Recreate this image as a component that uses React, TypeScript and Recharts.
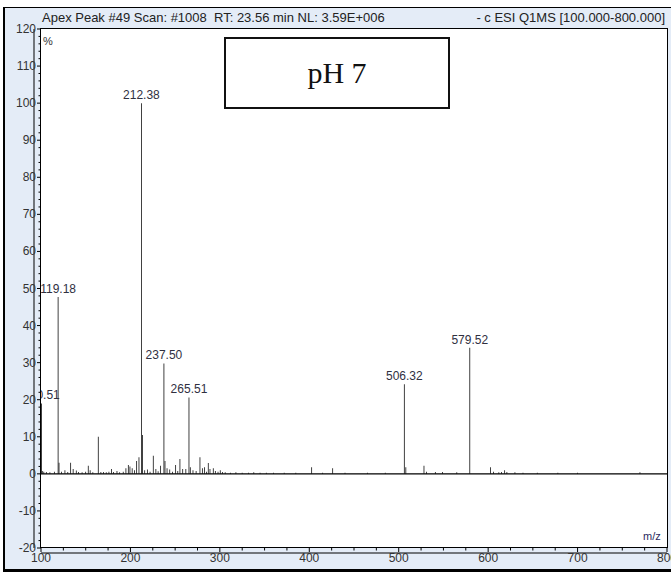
import React from 'react';
import { ComposedChart, Bar, XAxis, YAxis, ReferenceLine, LabelList } from 'recharts';

// m/z of each stick
const peakMz = [
  100.51, 101.5, 103.2, 106, 110, 115, 119.18, 120.2, 123, 126.8, 130, 133.2, 136, 139.5, 142, 146, 150,
  152.9, 155, 158, 164.1, 167, 170, 173, 176, 179, 181, 185, 188, 192, 195, 197.7, 199.5, 202, 204.5,
  207, 209.6, 212.38, 213.6, 216, 219, 222, 225.6, 228.5, 231, 233.8, 237.5, 238.7, 241, 244, 247,
  250.6, 253, 255.4, 258.5, 262, 265.51, 267, 270, 273.5, 277.8, 280.5, 283, 285, 287.1, 289, 292.7,
  295, 298, 300.5, 303, 306, 312, 318, 325, 332, 338, 345, 352, 360, 372, 385, 402.7, 415, 426.2, 440,
  465, 485, 506.32, 508, 528.3, 531, 541, 549, 565, 579.52, 602.8, 606, 612, 615, 618.5, 621, 630, 639,
  655, 678, 700, 769.8,
];
// relative abundance (%) of each stick
const peakIntensity = [
  19.0, 0.8, 0.6, 0.5, 0.4, 0.6, 47.7, 3.0, 0.6, 1.0, 0.5, 3.0, 1.3, 0.9, 0.5, 0.4, 0.6,
  2.2, 1.0, 0.4, 10.0, 0.5, 0.5, 0.4, 0.6, 1.3, 0.5, 0.8, 0.4, 0.6, 1.5, 2.4, 2.0, 1.5, 1.0,
  3.5, 4.5, 100, 10.5, 1.0, 1.2, 0.6, 4.9, 1.3, 0.7, 2.2, 29.8, 3.5, 1.5, 1.2, 0.6,
  2.4, 0.8, 4.0, 1.3, 1.3, 20.6, 1.8, 1.0, 0.8, 4.5, 1.5, 1.8, 0.6, 2.9, 1.3, 1.5,
  0.8, 0.6, 1.0, 0.5, 0.4, 0.3, 0.4, 0.3, 0.3, 0.4, 0.3, 0.3, 0.3, 0.3, 0.3, 1.8, 0.3, 1.5, 0.3,
  0.3, 0.3, 24.2, 1.8, 2.2, 0.6, 0.5, 0.5, 0.4, 34.0, 1.8, 0.6, 0.4, 0.5, 1.0, 0.5, 0.4, 0.3,
  0.3, 0.3, 0.3, 0.4,
];
const labelledPeaks = ['100.51', '119.18', '212.38', '237.50', '265.51', '506.32', '579.52'];

const xMajor = [100, 200, 300, 400, 500, 600, 700, 800];
const xMinor = [125, 150, 175, 225, 250, 275, 325, 350, 375, 425, 450, 475, 525, 550, 575, 625, 650, 675, 725, 750, 775];
const yMajor = [-20, -10, 0, 10, 20, 30, 40, 50, 60, 70, 80, 90, 100, 110, 120];
const yMinor: number[] = [];
for (let i = 0; i < yMajor.length - 1; i++) {
  for (let k = 1; k < 5; k++) yMinor.push(yMajor[i] + k * 2);
}

const headerLeft = 'Apex Peak #49 Scan: #1008  RT: 23.56 min NL: 3.59E+006';
const headerRight = '- c ESI Q1MS [100.000-800.000]';
const boxTitle = 'pH 7';

const data = peakMz.map((mz, i) => ({
  mz,
  intensity: peakIntensity[i],
  label: labelledPeaks.includes(mz.toFixed(2)) ? mz.toFixed(2) : '',
}));

const FONT = 'Arial, "Liberation Sans", sans-serif';

const YTick = (props: any) => {
  const { x, y, payload } = props;
  const v = Number(payload.value);
  const major = yMajor.includes(v);
  const len = major ? 4 : 2.5;
  return (
    <g>
      <line x1={x - len} x2={x} y1={y} y2={y} stroke="#000" strokeWidth={1} />
      {major && (
        <text x={x - 5} y={y + 4} textAnchor="end" fontSize={12} fill="#333" fontFamily={FONT}>
          {v}
        </text>
      )}
    </g>
  );
};

const XTick = (props: any) => {
  const { x, y, payload } = props;
  const v = Number(payload.value);
  const major = xMajor.includes(v);
  const len = major ? 4 : 2.5;
  return (
    <g>
      <line x1={x} x2={x} y1={y} y2={y + len} stroke="#000" strokeWidth={1} />
      {major && (
        <text x={x} y={y + 14} textAnchor="middle" fontSize={12} fill="#333" fontFamily={FONT}>
          {v}
        </text>
      )}
    </g>
  );
};

const PeakLabel = (props: any) => {
  const { x, y, width, value } = props;
  if (!value) return null;
  return (
    <text
      x={Number(x) + Number(width) / 2}
      y={Number(y) - 4}
      textAnchor="middle"
      fontSize={12}
      fill="#30303f"
      fontFamily={FONT}
      clipPath="url(#plotClip)"
    >
      {value}
    </text>
  );
};

export default function App() {
  return (
    <div style={{ position: 'absolute', left: 0, top: 0, width: 671, height: 572, overflow: 'hidden', background: '#fff' }}>
      <style>{`.recharts-yAxis{transform:translateX(-7px);} .recharts-xAxis{transform:translateY(5px);}`}</style>
      <div
        style={{
          position: 'absolute', left: 3, top: 7, width: 690, height: 565, boxSizing: 'border-box',
          borderTop: '1px solid #000', borderLeft: '2px solid #000', borderBottom: '3px solid #000',
          background: '#e4ecf7',
        }}
      />
      <div style={{ position: 'absolute', left: 42, top: 10, fontSize: 13, fontFamily: FONT, color: '#222', whiteSpace: 'pre' }}>
        {headerLeft}
      </div>
      <div style={{ position: 'absolute', right: 6, top: 10, fontSize: 13, fontFamily: FONT, color: '#222', whiteSpace: 'pre' }}>
        {headerRight}
      </div>
      <div
        style={{
          position: 'absolute', left: 40, top: 28, width: 628, height: 520, boxSizing: 'border-box',
          border: '1px solid #000', background: '#fff',
        }}
      />
      <div style={{ position: 'absolute', left: 0, top: 0 }}>
        <ComposedChart width={671} height={572} data={data} margin={{ top: 29, right: 4, bottom: 0, left: 0 }}>
          <defs>
            <clipPath id="plotClip">
              <rect x={41} y={0} width={630} height={548} />
            </clipPath>
          </defs>
          <XAxis
            dataKey="mz"
            type="number"
            domain={[100, 800]}
            ticks={[...xMajor, ...xMinor].sort((a, b) => a - b)}
            interval={0}
            height={24}
            tickSize={0}
            tickMargin={0}
            tickLine={false}
            axisLine={{ stroke: '#000' }}
            tick={<XTick />}
            allowDataOverflow
          />
          <YAxis
            type="number"
            domain={[-20, 120]}
            ticks={[...yMajor, ...yMinor].sort((a, b) => a - b)}
            interval={0}
            width={41}
            tickSize={0}
            tickMargin={0}
            tickLine={false}
            axisLine={{ stroke: '#000' }}
            tick={<YTick />}
            allowDataOverflow
          />
          <ReferenceLine y={0} stroke="#000" strokeWidth={1.2} />
          <Bar dataKey="intensity" fill="#111" barSize={1} isAnimationActive={false}>
            <LabelList dataKey="label" content={<PeakLabel />} />
          </Bar>
        </ComposedChart>
      </div>
      <div style={{ position: 'absolute', left: 43, top: 35, fontSize: 11, fontFamily: FONT, color: '#333' }}>%</div>
      <div style={{ position: 'absolute', left: 643, top: 530, fontSize: 11, fontFamily: FONT, color: '#2b2b5e' }}>m/z</div>
      <div
        style={{
          position: 'absolute', left: 224, top: 37, width: 226, height: 72, boxSizing: 'border-box',
          border: '2px solid #111', background: '#fff', display: 'flex', alignItems: 'center',
          justifyContent: 'center', fontFamily: '"Liberation Serif", "Times New Roman", serif', fontSize: 30, color: '#111',
        }}
      >
        {boxTitle}
      </div>
    </div>
  );
}
